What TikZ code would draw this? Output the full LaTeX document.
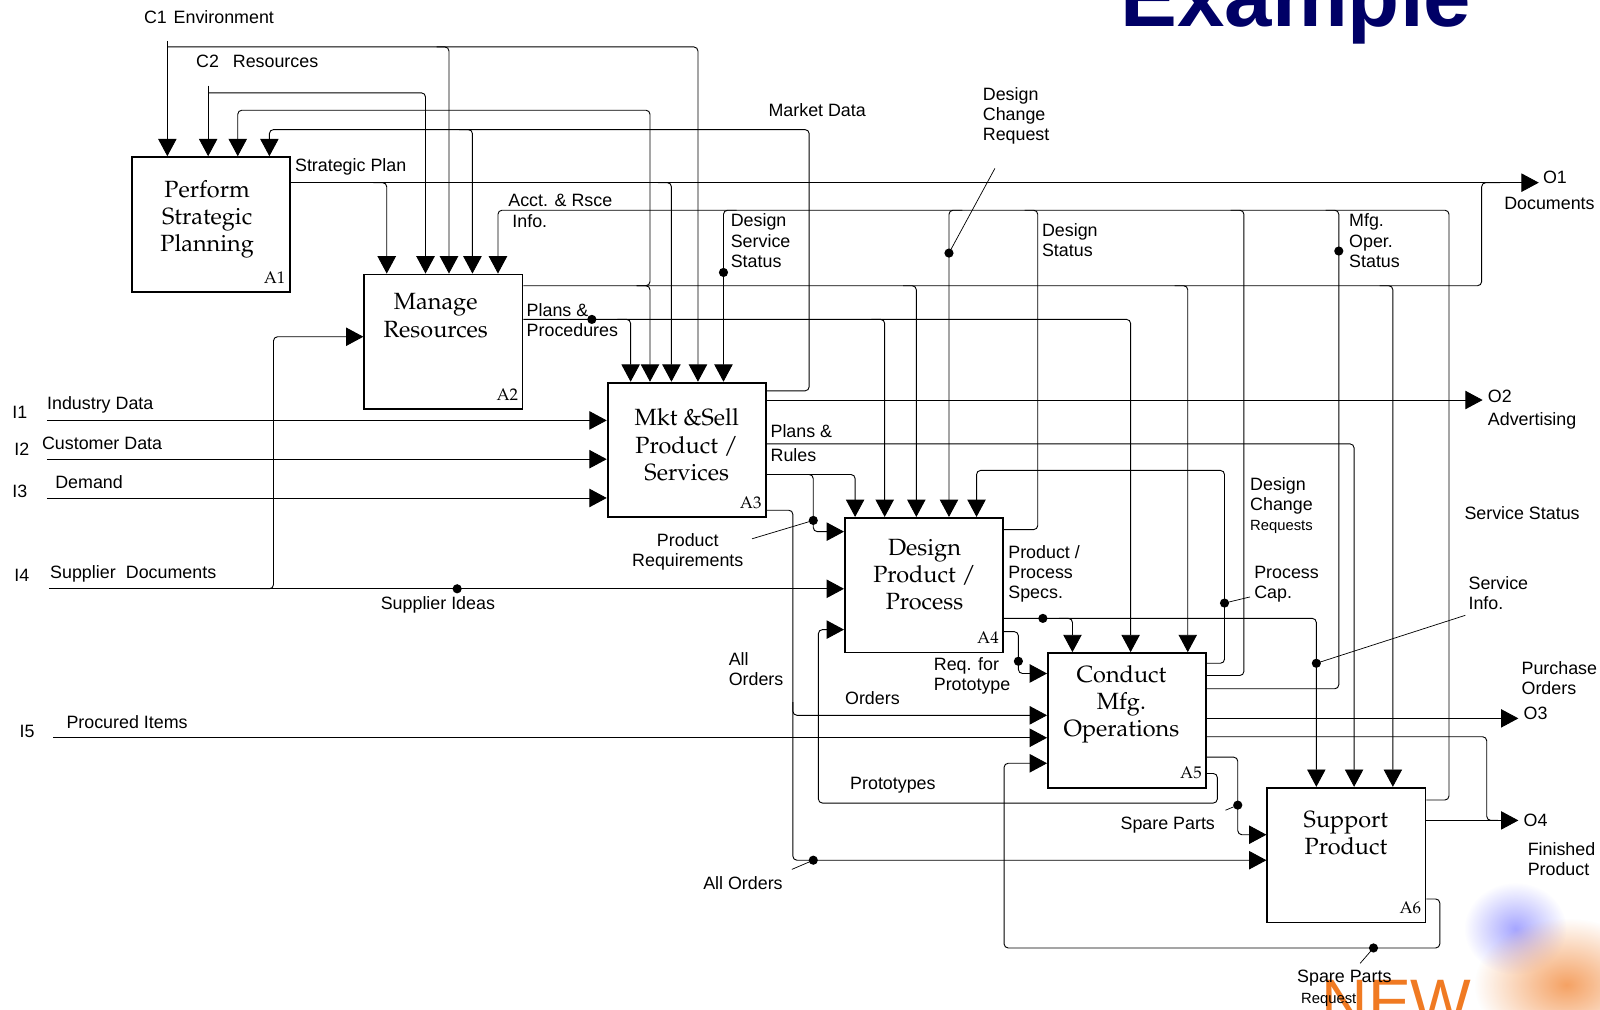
\documentclass[tikz,border=0pt]{standalone}
\usepackage{fontspec}
\setmainfont{Liberation Sans}
\usepackage{tikz}
\usetikzlibrary{arrows.meta, calc, fadings}
\definecolor{titlenavy}{HTML}{000066}
\definecolor{neworange}{HTML}{F07A22}
\tikzfading[name=fuzzy, inner color=transparent!0, outer color=transparent!100]
\newcommand{\labfont}{\fontsize{17.5}{19.7}\selectfont}
\newcommand{\reqfont}{\fontsize{14.5}{16}\selectfont}
\newcommand{\boxfont}{\fontsize{23}{26.5}\usefont{OT1}{ppl}{m}{n}}
\newcommand{\tagfont}{\fontsize{16.5}{18}\usefont{OT1}{ppl}{m}{n}}

\begin{document}
\begin{tikzpicture}[x=1pt, y=-1pt,
    box/.style={draw, line width=1.8pt, minimum width=155pt, minimum height=132pt, inner sep=0pt},
    flow/.style={line width=0.9pt, rounded corners=4pt},
    arr/.style={flow, -{Triangle[length=17pt, width=18pt]}},
    lead/.style={line width=0.7pt},
    lbl/.style={font=\labfont, anchor=north west, align=left, inner sep=0pt},
    ttl/.style={font=\boxfont, anchor=north, align=center, inner sep=0pt},
    tag/.style={font=\tagfont, anchor=base east, inner sep=0pt}]
    % Page
    \useasboundingbox (0,0) rectangle (1568,989);
    \fill[white] (0,0) rectangle (1568,989);
    % Title and watermark
    \node[text=titlenavy, font=\bfseries\fontsize{83.5}{84}\selectfont, anchor=base west, inner sep=0pt] (title) at (1098,25.5) {Example};
    \fill[blue!35, path fading=fuzzy] (1485,910) ellipse (50pt and 45pt);
    \fill[neworange!70, path fading=fuzzy] (1535,965) ellipse (90pt and 65pt);
    \node[text=neworange, font=\fontsize{63}{63}\selectfont, anchor=base west, inner sep=0pt] (newmark) at (1295,1004) {NEW};

    % Activity boxes
    \foreach \n/\x/\y in {A1/206.5/220, A2/434.5/335, A3/673/441, A4/905.5/573.5, A5/1104.5/706, A6/1319.5/838}
        \node[box] (\n) at (\x,\y) {};
    \node[ttl] (A1t) at (203,176.5) {Perform\\Strategic\\Planning};
    \node[ttl] (A2t) at (427,287.5) {Manage\\Resources};
    \node[ttl] (A3t) at (673,400.5) {Mkt \&Sell\\Product /\\Services};
    \node[ttl] (A4t) at (906,528.5) {Design\\Product /\\Process};
    \node[ttl] (A5t) at (1099,651.5) {Conduct\\Mfg.\\Operations};
    \node[ttl] (A6t) at (1319,794.5) {Support\\Product};
    \foreach \i in {1,...,6}
        \node[tag] (tag\i) at ($(A\i.south east)+(-5,-9.5)$) {A\i};

    % Controls C1, C2
    \coordinate (c1) at (164,40);
    \coordinate (c2) at (204,84);
    \draw[arr] (c1) -- (c1 |- A1.north);
    \draw[arr] (164,46) -| (684,0 |- A3.north);
    \draw[arr] (428,46) -| (440,0 |- A2.north);
    \draw[arr] (c2) -- (c2 |- A1.north);
    \draw[arr] (204,91) -| (417,0 |- A2.north);

    % Strategic plan
    \coordinate (o1) at (1508,179);
    \draw[arr] (A1.east |- 0,179) -- (o1);
    \draw[arr] (366,179) -| (379,0 |- A2.north);
    \draw[arr] (645,179) -| (658,0 |- A3.north);

    % A2 outputs
    \draw[flow] (A2.east |- 0,280) -| (1452,179) -- (1470,179);
    \draw[arr] (624,280) -| (637,108) -| (233,0 |- A1.north);
    \draw[arr] (624,280) -| (637,0 |- A3.north);
    \draw[arr] (885,280) -| (898,0 |- A4.north);
    \draw[arr] (1151,280) -| (1164,0 |- A5.north);
    \draw[arr] (1352,280) -| (1365,0 |- A6.north);
    \draw[arr] (A2.east |- 0,313) -| (1108,0 |- A5.north);
    \draw[arr] (605,313) -| (618,0 |- A3.north);
    \draw[arr] (854,313) -| (867,0 |- A4.north);

    % Market data
    \draw[arr] (A3.east |- 0,383) -| (793,127) -| (264,0 |- A1.north);
    \draw[arr] (450,127) -| (463,0 |- A2.north);

    % Status lines back to A2, A3, A4
    \draw[arr] (A6.east |- 0,784) -| (1420,206) -| (488,0 |- A2.north);
    \draw[arr] (722,206) -| (709,0 |- A3.north);
    \draw[arr] (943,206) -| (930,0 |- A4.north);
    \draw[flow] (A4.east |- 0,519) -| (1017,206) -- (1004,206);
    \draw[flow] (A5.east |- 0,662) -| (1219,206) -- (1206,206);
    \draw[flow] (A5.east |- 0,675) -| (1312,206) -- (1299,206);

    % A3 outputs
    \coordinate (o2) at (1453,392);
    \draw[arr] (A3.east |- 0,392) -- (o2);
    \draw[arr] (A3.east |- 0,435) -| (1327,0 |- A6.north);
    \draw[arr] (A3.east |- 0,465) -| (838,0 |- A4.north);
    \draw[arr] (784,465) -| (797,521) -- (A4.west |- 0,521);
    \draw[arr] (A3.east |- 0,500) -| (777,843) -- (A6.west |- 0,843);
    \draw[arr] (777,688) |- (A5.west |- 0,701);

    % Inputs I1 - I5
    \foreach \n/\x/\y/\b in {i1/46/412/A3, i2/46/450/A3, i3/46/488/A3, i4/48/577/A4, i5/52/723/A5}{
        \coordinate (\n) at (\x,\y);
        \draw[arr] (\n) -- (\b.west |- \n);
    }
    \draw[arr] (255,577) -| (268,330) -- (A2.west |- 0,330);

    % A4 outputs
    \draw[arr] (A4.east |- 0,606) -| (1290,0 |- A6.north);
    \draw[arr] (1038,606) -| (1051,0 |- A5.north);
    \draw[arr] (A4.east |- 0,619) -| (998,660) -- (A5.west |- 0,660);

    % A5 outputs
    \coordinate (o3) at (1488,704);
    \coordinate (o4) at (1488,804);
    \draw[arr] (A5.east |- 0,650) -| (1200,461) -| (957,0 |- A4.north);
    \draw[arr] (A5.east |- 0,704) -- (o3);
    \draw[flow] (A5.east |- 0,722) -| (1457,804) -- (1468,804);
    \draw[arr] (A5.east |- 0,742) -| (1213,818) -- (A6.west |- 0,818);
    \draw[arr] (A5.east |- 0,758) -| (1193,787) -| (802,617) -- (A4.west |- 0,617);

    % A6 outputs
    \draw[arr] (A6.east |- 0,804) -- (o4);
    \draw[arr] (A6.east |- 0,881) -| (1411,929) -| (984,748) -- (A5.west |- 0,748);

    % Label dots and leaders
    \foreach \x/\y in {580/313, 709/267, 930/248, 1312/246, 448/577, 797/510, 1022/606, 998/648, 1200/591, 1290/650, 1213/789, 797/843, 1346/929}
        \fill (\x,\y) circle (4.5pt);
    \draw[lead] (930,248) -- (975,165);
    \draw[lead] (797,510) -- (737,528);
    \draw[lead] (1200,591) -- (1225,585);
    \draw[lead] (1290,650) -- (1436,603);
    \draw[lead] (1213,789) -- (1201,794);
    \draw[lead] (797,843) -- (776,852);
    \draw[lead] (1346,929) -- (1333,944);

    % Labels
    \node[lbl] (c1lab) at (141,10.5) {C1};
    \node[lbl] (envlab) at (170,10.5) {Environment};
    \node[lbl] (c2lab) at (192,53.5) {C2};
    \node[lbl] (reslab) at (228,53.5) {Resources};
    \node[lbl] (stratlab) at (289,155.5) {Strategic Plan};
    \node[lbl] (mktlab) at (753,101.5) {Market Data};
    \node[lbl] (dcrlab) at (963,85.5) {Design\\Change\\Request};
    \node[lbl] (acctlab) at (498,190.5) {Acct. \& Rsce\\\hspace*{4pt}Info.};
    \node[lbl] (dsslab) at (716,209.5) {Design\\Service\\Status};
    \node[lbl] (dslab) at (1021,218.5) {Design\\Status};
    \node[lbl] (moslab) at (1322,209.5) {Mfg.\\Oper.\\Status};
    \node[lbl] (o1lab) at (1512,167.5) {O1};
    \node[lbl] (doclab) at (1474,193.5) {Documents};
    \node[lbl] (pplab) at (516,297.5) {Plans \&\\Procedures};
    \node[lbl] (i1lab) at (12,397.5) {I1};
    \node[lbl] (indlab) at (46,388.5) {Industry Data};
    \node[lbl] (i2lab) at (14,433.5) {I2};
    \node[lbl] (custlab) at (41,428.5) {Customer Data};
    \node[lbl] (i3lab) at (12,475.5) {I3};
    \node[lbl] (demlab) at (54,465.5) {Demand};
    \node[lbl] (i4lab) at (14,557.5) {I4};
    \node[lbl] (supdlab) at (49,554.5) {Supplier\hspace{10pt}Documents};
    \node[lbl] (supilab) at (373,584.5) {Supplier Ideas};
    \node[lbl] (o2lab) at (1458,382.5) {O2};
    \node[lbl] (advlab) at (1458,404.5) {Advertising};
    \node[lbl] (prlab) at (755,415.5) {Plans \&};
    \node[lbl] (rulab) at (755,439.5) {Rules};
    \node[lbl, anchor=north, align=center] (reqlab) at (674,522.5) {Product\\Requirements};
    \node[lbl] (specslab) at (988,534.5) {Product /\\Process\\Specs.};
    \node[lbl] (dcrslab) at (1225,467.5) {Design\\Change};
    \node[lbl, font=\reqfont] (dcrslab2) at (1225,509.5) {Requests};
    \node[lbl] (caplab) at (1229,554.5) {Process\\Cap.};
    \node[lbl] (sslab) at (1435,496.5) {Service Status};
    \node[lbl] (silab) at (1439,564.5) {Service\\Info.};
    \node[lbl] (aolab) at (714,639.5) {All\\Orders};
    \node[lbl] (rfplab) at (915,644.5) {Req. for\\Prototype};
    \node[lbl] (ordlab) at (828,677.5) {Orders};
    \node[lbl] (polab) at (1491,648.5) {Purchase\\Orders};
    \node[lbl] (o3lab) at (1493,692.5) {O3};
    \node[lbl] (i5lab) at (19,710.5) {I5};
    \node[lbl] (proclab) at (65,701.5) {Procured Items};
    \node[lbl] (protlab) at (833,761.5) {Prototypes};
    \node[lbl] (splab) at (1098,800.5) {Spare Parts};
    \node[lbl] (o4lab) at (1493,797.5) {O4};
    \node[lbl] (fplab) at (1497,825.5) {Finished\\Product};
    \node[lbl] (aolab2) at (689,858.5) {All Orders};
    \node[lbl] (sprlab) at (1271,950.5) {Spare Parts};
    \node[lbl, font=\reqfont] (sprlab2) at (1275,973.5) {Request};
\end{tikzpicture}
\end{document}
